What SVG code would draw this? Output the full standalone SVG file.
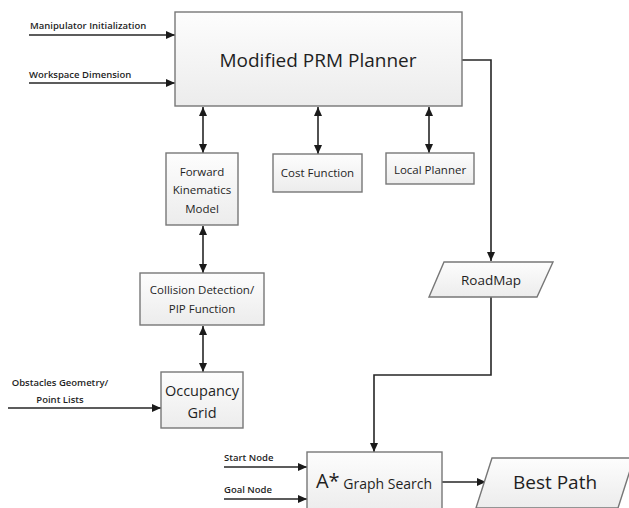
<svg xmlns="http://www.w3.org/2000/svg" width="629" height="508" viewBox="0 0 629 508">
<style>
.box{fill:url(#g);stroke:#777;stroke-width:1.4}
.ln{fill:none;stroke:#262626;stroke-width:1.6}
.t{font-family:"Open Sans","Liberation Sans",sans-serif;fill:#1f1f1f;text-anchor:middle;font-weight:500}
.lb{font-family:"Open Sans","Liberation Sans",sans-serif;fill:#1f1f1f;font-size:9.5px;font-weight:600}
</style>
<defs>
<linearGradient id="g" x1="0" y1="0" x2="0" y2="1"><stop offset="0" stop-color="#fdfdfd"/><stop offset="1" stop-color="#ececec"/></linearGradient>
<marker id="ae" markerWidth="9" markerHeight="8" refX="9" refY="4" orient="auto" markerUnits="userSpaceOnUse"><path d="M0,0 L9,4 L0,8 Z" fill="#1a1a1a"/></marker>
<marker id="as" markerWidth="9" markerHeight="8" refX="0" refY="4" orient="auto" markerUnits="userSpaceOnUse"><path d="M9,0 L0,4 L9,8 Z" fill="#1a1a1a"/></marker>
</defs>
<rect width="629" height="508" fill="#fff"/>
<g id="connectors">
<line class="ln" x1="29" y1="35" x2="175" y2="35" marker-end="url(#ae)"/>
<line class="ln" x1="29" y1="83" x2="175" y2="83" marker-end="url(#ae)"/>
<polyline class="ln" points="462,60 491,60 491,261" marker-end="url(#ae)"/>
<line class="ln" x1="203" y1="107" x2="203" y2="153" marker-start="url(#as)" marker-end="url(#ae)"/>
<line class="ln" x1="318" y1="107" x2="318" y2="154" marker-start="url(#as)" marker-end="url(#ae)"/>
<line class="ln" x1="429" y1="107" x2="429" y2="153" marker-start="url(#as)" marker-end="url(#ae)"/>
<line class="ln" x1="203" y1="226" x2="203" y2="273" marker-start="url(#as)" marker-end="url(#ae)"/>
<line class="ln" x1="203" y1="326" x2="203" y2="372" marker-start="url(#as)" marker-end="url(#ae)"/>
<line class="ln" x1="8" y1="408" x2="161" y2="408" marker-end="url(#ae)"/>
<polyline class="ln" points="491,297 491,375 374,375 374,452" marker-end="url(#ae)"/>
<line class="ln" x1="224" y1="467" x2="307" y2="467" marker-end="url(#ae)"/>
<line class="ln" x1="224" y1="499" x2="307" y2="499" marker-end="url(#ae)"/>
<line class="ln" x1="442" y1="482" x2="486" y2="482" marker-end="url(#ae)"/>
</g>
<g id="labels">
<text class="lb" x="30" y="29">Manipulator Initialization</text>
<text class="lb" x="29" y="78">Workspace Dimension</text>
<text class="lb" x="60" y="386" text-anchor="middle">Obstacles Geometry/</text>
<text class="lb" x="60" y="403" text-anchor="middle">Point Lists</text>
<text class="lb" x="224" y="461">Start Node</text>
<text class="lb" x="224" y="493">Goal Node</text>
</g>
<g id="prm">
<rect class="box" x="175" y="12" width="287" height="94"/>
<text class="t" x="318" y="67" font-size="19">Modified PRM Planner</text>
</g>
<g id="fk">
<rect class="box" x="166" y="153" width="72" height="72"/>
<text class="t" x="202" y="176" font-size="11.5">Forward</text>
<text class="t" x="202" y="194" font-size="11.5">Kinematics</text>
<text class="t" x="202" y="213" font-size="11.5">Model</text>
</g>
<g id="cost">
<rect class="box" x="273" y="154" width="89" height="38"/>
<text class="t" x="317.5" y="177" font-size="11.5">Cost Function</text>
</g>
<g id="local">
<rect class="box" x="386" y="153" width="88" height="31"/>
<text class="t" x="430" y="174" font-size="11.5">Local Planner</text>
</g>
<g id="collision">
<rect class="box" x="140" y="273" width="124" height="52"/>
<text class="t" x="202" y="294" font-size="11.5">Collision Detection/</text>
<text class="t" x="202" y="313" font-size="11.5">PIP Function</text>
</g>
<g id="occupancy">
<rect class="box" x="161" y="372" width="82" height="56"/>
<text class="t" x="202" y="396" font-size="14.5">Occupancy</text>
<text class="t" x="202" y="418" font-size="14.5">Grid</text>
</g>
<g id="roadmap">
<polygon class="box" points="444,262 553,262 537,297 429,297"/>
<text class="t" x="491" y="285" font-size="13.5">RoadMap</text>
</g>
<g id="astar">
<rect class="box" x="307" y="452" width="135" height="60"/>
<text class="t" x="374" y="489" font-size="14"><tspan font-size="20" dy="-1">A*</tspan><tspan dy="1"> Graph Search</tspan></text>
</g>
<g id="bestpath">
<polygon class="box" points="492,458 634,458 618,508 476,508"/>
<text class="t" x="555" y="489" font-size="19">Best Path</text>
</g>
</svg>
